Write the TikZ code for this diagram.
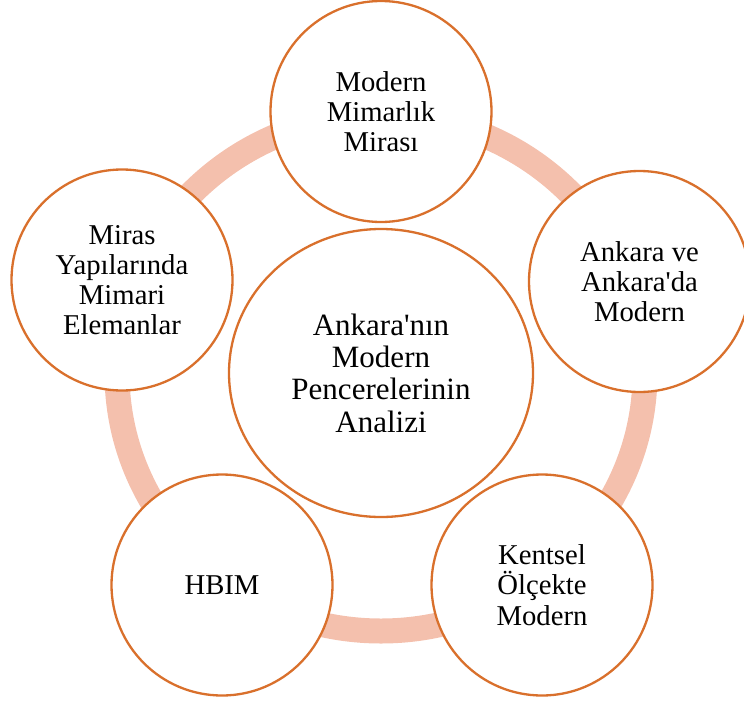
\documentclass[tikz,border=0pt]{standalone}
\usepackage{fontspec}
\setmainfont{Liberation Serif}
\usetikzlibrary{shapes.geometric}
\definecolor{ringc}{RGB}{244,192,173}
\definecolor{edgec}{RGB}{217,112,44}
\begin{document}
\begin{tikzpicture}[x=1pt,y=-1pt,
  outer/.style={circle, draw=edgec, line width=2.3pt, fill=white, inner sep=0pt,
    minimum size=221pt, align=center, font=\fontsize{28.7}{30.2}\selectfont},
  hub/.style={ellipse, draw=edgec, line width=2.3pt, fill=white, inner sep=0pt,
    minimum width=304pt, minimum height=288pt, align=center, font=\fontsize{31}{32.4}\selectfont}]
\useasboundingbox (0,0) rectangle (744,704);
\clip (0,0) rectangle (744,704);
\draw[ringc, line width=25pt] (381,373) ellipse [x radius=264pt, y radius=258pt];
\node[outer] (n1) at (381,111.5) {Modern\\Mimarlık\\Mirası};
\node[outer] (n2) at (639.5,281.5) {Ankara ve\\Ankara\textquotesingle da\\Modern};
\node[outer] (n3) at (542,585) {Kentsel\\Ölçekte\\Modern};
\node[outer] (n4) at (222,585) {HBIM};
\node[outer] (n5) at (122,280) {Miras\\Yapılarında\\Mimari\\Elemanlar};
\node[hub] (c) at (381,373) {Ankara\textquotesingle nın\\Modern\\Pencerelerinin\\Analizi};
\end{tikzpicture}
\end{document}
